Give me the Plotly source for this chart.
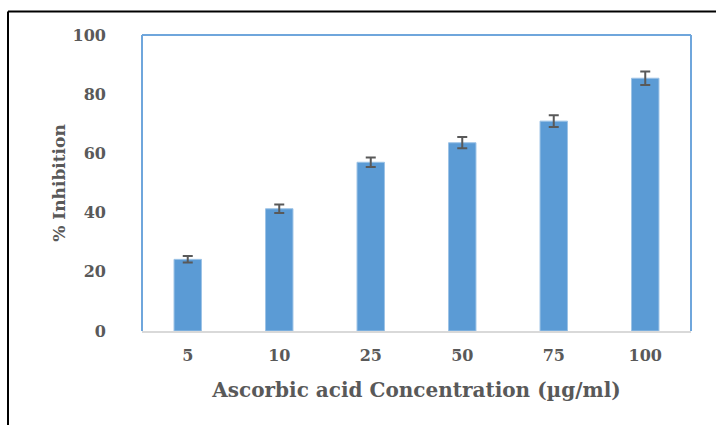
import plotly.graph_objects as go

# Ascorbic acid standard: % inhibition by concentration
concentrations = ["5", "10", "25", "50", "75", "100"]
inhibition = [24.2, 41.3, 57.0, 63.6, 70.9, 85.4]
std_error = [1.1, 1.4, 1.6, 1.9, 2.0, 2.3]
y_ticks = [0, 20, 40, 60, 80, 100]

W, H = 716, 425
ML, MR, MT, MB = 142, 25, 35, 94
PW, PH = W - ML - MR, H - MT - MB

TEXT = "#595959"
BAR = "#5B9BD5"
FONT = "DejaVu Serif"


def px_x(px):
    return (px - ML) / PW


def px_y(py):
    return (H - MB - py) / PH


fig = go.Figure(
    go.Bar(
        x=concentrations,
        y=inhibition,
        marker=dict(color=BAR, line=dict(color="#9DC3E6", width=1)),
        error_y=dict(type="data", array=std_error, visible=True,
                     color=TEXT, thickness=2, width=5),
        width=0.3,
    )
)

shapes = [
    # blue frame around plot area (left, top, right)
    dict(type="line", xref="paper", yref="paper", x0=0, x1=0, y0=0, y1=1,
         line=dict(color="#6FA6DC", width=2)),
    dict(type="line", xref="paper", yref="paper", x0=0, x1=1, y0=1, y1=1,
         line=dict(color="#6FA6DC", width=2)),
    dict(type="line", xref="paper", yref="paper", x0=1, x1=1, y0=0, y1=1,
         line=dict(color="#6FA6DC", width=2)),
    # outer black border
    dict(type="line", xref="paper", yref="paper", x0=px_x(8), x1=px_x(8),
         y0=px_y(11.5), y1=px_y(440), line=dict(color="black", width=2)),
    dict(type="line", xref="paper", yref="paper", x0=px_x(8), x1=px_x(730),
         y0=px_y(11.5), y1=px_y(11.5), line=dict(color="black", width=2)),
]

fig.update_layout(
    width=W, height=H,
    margin=dict(l=ML, r=MR, t=MT, b=MB, pad=0),
    paper_bgcolor="white", plot_bgcolor="white",
    showlegend=False,
    shapes=shapes,
    font=dict(family=FONT, color=TEXT),
    xaxis=dict(
        showgrid=False, zeroline=False,
        showline=True, linecolor="#D9D9D9", linewidth=2,
        ticks="", ticklabelstandoff=9,
        tickfont=dict(family=FONT, size=16, color=TEXT, weight="bold"),
        title=dict(text="Ascorbic acid Concentration (µg/ml)", standoff=19,
                   font=dict(family=FONT, size=20, color=TEXT, weight="bold")),
    ),
    yaxis=dict(
        range=[0, 100], tickvals=y_ticks,
        showgrid=False, zeroline=False, showline=False,
        ticks="", ticklabelstandoff=35,
        tickfont=dict(family=FONT, size=16, color=TEXT, weight="bold"),
        title=dict(text="% Inhibition", standoff=2,
                   font=dict(family=FONT, size=17, color=TEXT, weight="bold")),
    ),
)

fig.write_html("out.html")
